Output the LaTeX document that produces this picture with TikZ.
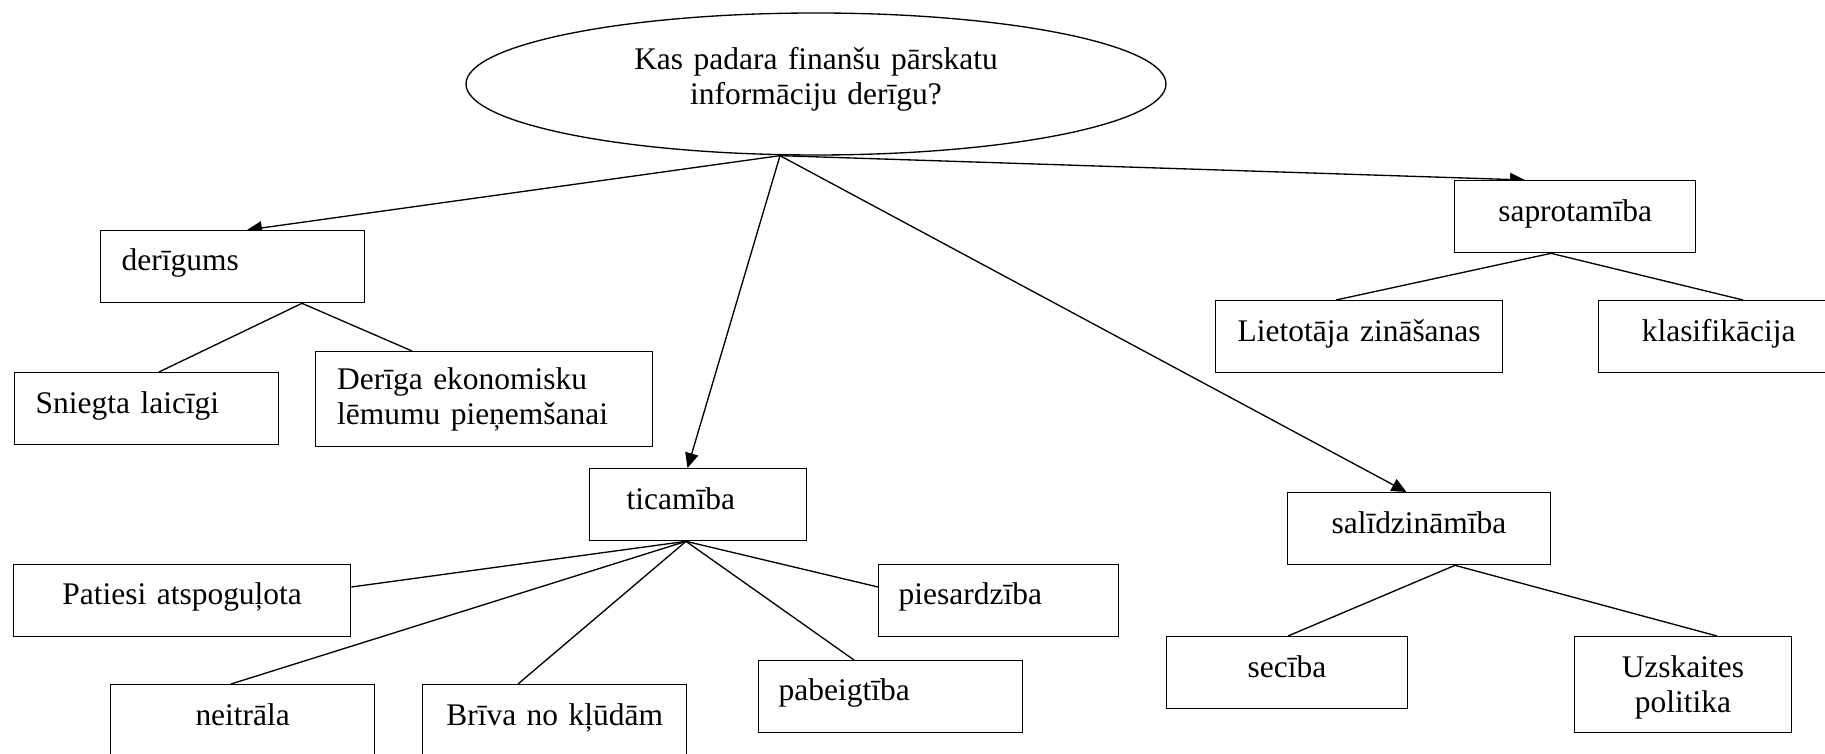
\documentclass[tikz,border=0pt]{standalone}
\usepackage{fontspec}
\setmainfont{Liberation Serif}
\usetikzlibrary{shapes.geometric,arrows.meta,backgrounds}
\newlength{\pxu}
\setlength{\pxu}{0.375pt}
\newcommand{\fs}{\fontsize{11.8}{13.125}\selectfont}
\tikzset{
  box/.style={draw, fill=white, line width=0.5pt, anchor=north west, inner sep=0pt, font=\fs},
  one/.style={minimum height=72\pxu, text height=41\pxu, text depth=31\pxu},
  arr/.style={line width=0.5pt, -{Triangle[length=5.6pt,width=5pt]}},
  fan/.style={line width=0.5pt},
}
\begin{document}
\begin{tikzpicture}[x=0.375pt, y=-0.375pt]
\useasboundingbox (0,0) rectangle (1825,754);
\clip (0,0) rectangle (1825,754);

% root
\node[draw, ellipse, line width=0.5pt, minimum width=700\pxu, minimum height=142\pxu,
      inner sep=0pt, text width=420\pxu, align=center, text height=22\pxu, text depth=50\pxu, font=\fs]
      (q) at (816,84) {Kas padara finanšu pārskatu\\informāciju derīgu?};

% derīgums branch
\node[box, one, minimum width=264\pxu, text width=222\pxu, align=left, text height=40\pxu, text depth=32\pxu]
      (derigums) at (100,230) {derīgums};
\node[box, one, minimum width=264\pxu, text width=222\pxu, align=left] (sniegta) at (14,372) {Sniegta laicīgi};
\node[box, minimum width=337\pxu, minimum height=95\pxu, text width=294\pxu, align=left,
      text height=37.5\pxu, text depth=57.5\pxu] (deriga) at (315,351) {Derīga ekonomisku\\lēmumu pieņemšanai};

% saprotamība branch
\node[box, one, minimum width=241\pxu, text width=221\pxu, align=center] (saprot) at (1454,180) {saprotamība};
\node[box, one, minimum width=287\pxu, text width=267\pxu, align=center] (lietot) at (1215,300) {Lietotāja zināšanas};
\node[box, one, minimum width=240\pxu, text width=220\pxu, align=center] (klasif) at (1598,300) {klasifikācija};

% ticamība branch
\node[box, one, minimum width=217\pxu, text width=143\pxu, align=left] (ticam) at (589,468) {ticamība};
\node[box, one, minimum width=337\pxu, text width=317\pxu, align=center, text height=40\pxu, text depth=32\pxu]
      (patiesi) at (13,564) {Patiesi atspoguļota};
\node[box, one, minimum width=264\pxu, text width=244\pxu, align=center] (neitr) at (110,684) {neitrāla};
\node[box, one, minimum width=264\pxu, text width=244\pxu, align=center] (briva) at (422,684) {Brīva no kļūdām};
\node[box, one, minimum width=264\pxu, text width=224\pxu, align=left, text height=40\pxu, text depth=32\pxu]
      (pabeig) at (758,660) {pabeigtība};
\node[box, one, minimum width=240\pxu, text width=200\pxu, align=left, text height=40\pxu, text depth=32\pxu]
      (piesard) at (878,564) {piesardzība};

% salīdzināmība branch
\node[box, one, minimum width=263.5\pxu, text width=243\pxu, align=center] (salidz) at (1286.5,492) {salīdzināmība};
\node[box, one, minimum width=240.5\pxu, text width=220\pxu, align=center] (seciba) at (1166,636) {secība};
\node[box, minimum width=216.5\pxu, minimum height=96\pxu, text width=196\pxu, align=center,
      text height=41\pxu, text depth=55\pxu] (uzsk) at (1574,636) {Uzskaites\\politika};

\begin{scope}[on background layer]
\fill[white] (0,0) rectangle (1825,754);
% arrows from the root
\draw[arr] ([xshift=-36\pxu]q.south) -- ([xshift=147\pxu]derigums.north west);
\draw[arr] ([xshift=-36\pxu]q.south) -- ([xshift=98.5\pxu]ticam.north west);
\draw[arr] ([xshift=-36\pxu]q.south) -- ([xshift=120\pxu]salidz.north west);
\draw[arr] ([xshift=-36\pxu]q.south) -- ([xshift=71\pxu]saprot.north west);
% fans
\draw[fan] ([xshift=202\pxu]derigums.south west) -- ([xshift=145\pxu]sniegta.north west);
\draw[fan] ([xshift=202\pxu]derigums.south west) -- ([xshift=97\pxu]deriga.north west);
\draw[fan] ([xshift=97\pxu]saprot.south west) -- ([xshift=121\pxu]lietot.north west);
\draw[fan] ([xshift=97\pxu]saprot.south west) -- ([xshift=145\pxu]klasif.north west);
\draw[fan] ([xshift=97\pxu]ticam.south west) -- ([yshift=-23\pxu]patiesi.north east);
\draw[fan] ([xshift=97\pxu]ticam.south west) -- ([xshift=121\pxu]neitr.north west);
\draw[fan] ([xshift=97\pxu]ticam.south west) -- ([xshift=96\pxu]briva.north west);
\draw[fan] ([xshift=97\pxu]ticam.south west) -- ([xshift=96\pxu]pabeig.north west);
\draw[fan] ([xshift=97\pxu]ticam.south west) -- ([yshift=-23\pxu]piesard.north west);
\draw[fan] ([xshift=168.5\pxu]salidz.south west) -- ([xshift=122\pxu]seciba.north west);
\draw[fan] ([xshift=168.5\pxu]salidz.south west) -- ([xshift=143\pxu]uzsk.north west);
\end{scope}
\end{tikzpicture}
\end{document}
